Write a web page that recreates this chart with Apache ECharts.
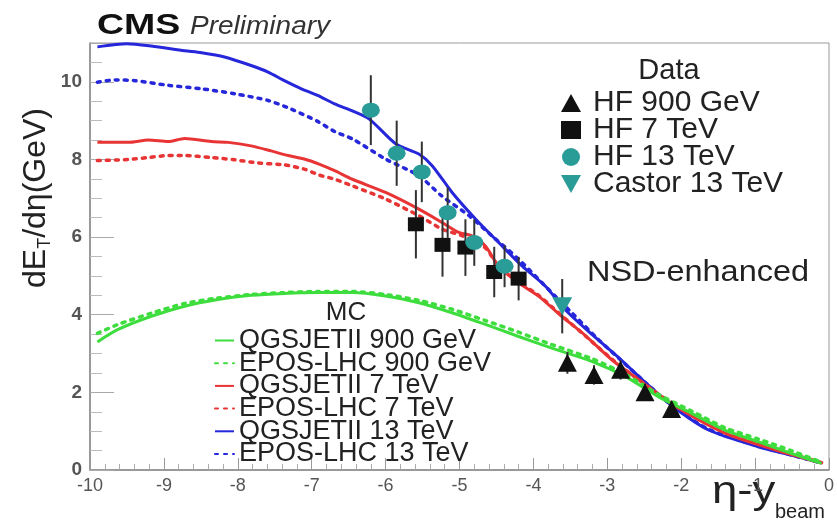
<!DOCTYPE html>
<html>
<head>
<meta charset="utf-8">
<script src="https://cdn.jsdelivr.net/npm/echarts@6/dist/echarts.min.js"></script>
<style>
  html, body { margin: 0; padding: 0; background: #fff; }
  #chart { width: 837px; height: 523px; }
</style>
</head>
<body>
<div id="chart"></div>
<script>
// ---- MC predictions: [eta - y_beam, dE_T/deta] ----
const qgs13 = [[-9.9,10.90],[-9.5,10.98],[-9.17,10.92],[-8.72,10.80],[-8.49,10.75],[-8.18,10.64],[-7.82,10.42],[-7.59,10.25],[-7.37,10.03],[-7.14,9.82],[-6.92,9.65],[-6.69,9.43],[-6.45,9.25],[-6.22,9.04],[-5.86,8.40],[-5.55,8.14],[-5.37,7.84],[-5.10,7.15],[-4.78,6.46],[-4.47,5.86],[-4.15,5.25],[-3.84,4.74],[-3.57,4.13],[-3.20,3.48],[-2.85,2.90],[-2.50,2.28],[-2.13,1.66],[-1.63,1.03],[-0.96,0.60],[-0.50,0.38],[-0.10,0.18]];
const epos13 = [[-9.9,9.99],[-9.66,10.05],[-9.39,10.03],[-8.94,9.91],[-8.49,9.82],[-8.04,9.69],[-7.59,9.52],[-7.28,9.30],[-6.92,8.98],[-6.69,8.72],[-6.45,8.53],[-6.0,8.01],[-5.55,7.58],[-5.24,7.06],[-4.87,6.55],[-4.56,6.03],[-4.20,5.43],[-3.66,4.39],[-3.48,4.05],[-3.12,3.36],[-2.85,2.89],[-2.50,2.28],[-2.13,1.67],[-1.63,1.05],[-0.96,0.62],[-0.50,0.38],[-0.10,0.18]];
const qgs7 = [[-9.9,8.44],[-9.48,8.44],[-9.21,8.50],[-8.94,8.46],[-8.72,8.54],[-8.36,8.46],[-8.13,8.44],[-7.82,8.35],[-7.55,8.22],[-7.32,8.10],[-7.10,8.01],[-6.90,7.88],[-6.69,7.71],[-6.45,7.49],[-6.0,7.15],[-5.55,6.72],[-5.23,6.37],[-5.01,6.12],[-4.83,6.03],[-4.65,5.77],[-4.47,5.25],[-4.20,4.82],[-3.93,4.48],[-3.63,3.98],[-3.30,3.47],[-2.94,2.84],[-2.58,2.33],[-2.08,1.64],[-1.41,0.95],[-0.73,0.52],[-0.10,0.18]];
const epos7 = [[-9.9,7.97],[-9.48,8.0],[-9.21,8.05],[-8.94,8.10],[-8.72,8.10],[-8.36,8.05],[-8.04,7.99],[-7.73,7.91],[-7.37,7.86],[-7.10,7.75],[-6.90,7.60],[-6.69,7.49],[-6.45,7.32],[-6.0,6.98],[-5.55,6.55],[-5.23,6.20],[-4.96,6.03],[-4.65,5.72],[-4.47,5.25],[-4.20,4.84],[-3.93,4.50],[-3.63,4.00],[-3.30,3.46],[-2.94,2.86],[-2.58,2.33],[-2.08,1.66],[-1.41,0.97],[-0.73,0.54],[-0.10,0.19]];
const qgs900 = [[-9.9,3.30],[-9.62,3.62],[-9.17,3.96],[-8.72,4.22],[-8.27,4.39],[-7.82,4.50],[-7.37,4.55],[-6.92,4.57],[-6.45,4.57],[-6.0,4.48],[-5.55,4.31],[-5.10,4.05],[-4.65,3.75],[-4.20,3.44],[-3.75,3.14],[-3.21,2.80],[-2.76,2.41],[-2.31,1.89],[-1.86,1.46],[-1.41,1.03],[-0.96,0.73],[-0.51,0.43],[-0.10,0.17]];
const epos900 = [[-9.9,3.52],[-9.62,3.75],[-9.17,4.04],[-8.72,4.29],[-8.27,4.43],[-7.82,4.52],[-7.37,4.57],[-6.92,4.60],[-6.45,4.60],[-6.0,4.52],[-5.55,4.37],[-5.10,4.14],[-4.65,3.85],[-4.20,3.55],[-3.75,3.23],[-3.21,2.87],[-2.76,2.47],[-2.31,1.95],[-1.86,1.52],[-1.41,1.09],[-0.96,0.80],[-0.51,0.50],[-0.10,0.20]];

// ---- measurements ----
const hf900X = [-3.54, -3.18, -2.82, -2.49, -2.13];
const hf900Y = [2.76, 2.45, 2.58, 2.00, 1.57];
const hf900Err = [0.28, 0.25, 0.25, 0.22, 0.20];

const hf7X = [-5.59, -5.23, -4.92, -4.53, -4.20];
const hf7Y = [6.33, 5.80, 5.73, 5.10, 4.93];
const hf7Err = [0.88, 0.82, 0.73, 0.65, 0.56];

const hf13X = [-6.20, -5.85, -5.51, -5.16, -4.80, -4.39];
const hf13Y = [9.27, 8.16, 7.68, 6.63, 5.86, 5.25];
const hf13Err = [0.90, 0.84, 0.78, 0.65, 0.60, 0.54];

const castor13X = [-3.61];
const castor13Y = [4.22];
const castor13Err = [0.70];

const mcNames = ['QGSJETII 900 GeV', 'EPOS-LHC 900 GeV', 'QGSJETII 7 TeV', 'EPOS-LHC 7 TeV', 'QGSJETII 13 TeV', 'EPOS-LHC 13 TeV'];
const dataNames = ['HF 900 GeV', 'HF 7 TeV', 'HF 13 TeV', 'Castor 13 TeV'];

const FONT = '"Liberation Sans", Arial, Helvetica, sans-serif';
const BLUE = '#2626da', RED = '#e83434', GREEN = '#3ddd3d', TEAL = '#2a9c98', BLACK = '#111';
const DOWN_TRIANGLE = 'path://M0,0L10,0L5,9Z';

const pairs = (xs, ys) => xs.map((x, i) => [x, ys[i]]);

function mcLine(name, data, color, dotted) {
  return {
    type: 'line', name, data, smooth: 0.25,
    symbol: 'circle', showSymbol: false, silent: true,
    lineStyle: dotted
      ? { color, width: 3.5, type: [3, 6], cap: 'round' }
      : { color, width: 3 },
    itemStyle: { color },
    z: 2
  };
}

function errorBars(xs, ys, errs) {
  return {
    type: 'custom', silent: true, z: 3,
    data: xs.map((x, i) => [x, ys[i] - errs[i], ys[i] + errs[i]]),
    encode: { x: 0, y: [1, 2] },
    renderItem: (params, api) => {
      const lo = api.coord([api.value(0), api.value(1)]);
      const hi = api.coord([api.value(0), api.value(2)]);
      return {
        type: 'line',
        shape: { x1: lo[0], y1: lo[1], x2: hi[0], y2: hi[1] },
        style: { stroke: '#333', lineWidth: 2 }
      };
    }
  };
}

function points(name, xs, ys, symbol, size, color, rotate) {
  return {
    type: 'scatter', name, data: pairs(xs, ys),
    symbol, symbolSize: size, symbolRotate: rotate || 0,
    itemStyle: { color, opacity: 1 },
    z: 4
  };
}

const chart = echarts.init(document.getElementById('chart'), null, { renderer: 'canvas' });

chart.setOption({
  animation: false,
  backgroundColor: '#fff',
  textStyle: { fontFamily: FONT },
  grid: {
    left: 90, right: 5, top: 43, bottom: 53,
    show: true, borderColor: '#999', borderWidth: 1, backgroundColor: 'transparent'
  },
  xAxis: {
    type: 'value', min: -10, max: 0, interval: 1,
    axisLine: { onZero: false, lineStyle: { color: '#888', width: 1.5 } },
    axisTick: { inside: true, length: 12, lineStyle: { color: '#999' } },
    minorTick: { show: true, splitNumber: 5, length: 6, lineStyle: { color: '#aaa' } },
    splitLine: { show: false },
    axisLabel: { color: '#555', fontSize: 18, fontFamily: FONT, margin: 7 }
  },
  yAxis: {
    type: 'value', min: 0, max: 11, interval: 2,
    axisLine: { show: true, onZero: false, lineStyle: { color: '#888', width: 1.5 } },
    axisTick: { show: true, inside: true, length: 24, lineStyle: { color: '#aaa' } },
    minorTick: { show: true, splitNumber: 4, length: 12, lineStyle: { color: '#bbb' } },
    splitLine: { show: false },
    axisLabel: { color: '#555', fontSize: 19, fontWeight: 'bold', fontFamily: FONT, margin: 8, showMaxLabel: false }
  },
  legend: [
    {
      data: [
        { name: dataNames[0] },
        { name: dataNames[1] },
        { name: dataNames[2] },
        { name: dataNames[3], icon: DOWN_TRIANGLE }
      ],
      orient: 'vertical', left: 556, top: 83,
      itemWidth: 20, itemHeight: 18, itemGap: -3,
      textStyle: { fontSize: 30, color: '#222', fontFamily: FONT, padding: [0, 0, 0, 7] },
      selectedMode: false
    },
    {
      data: mcNames, orient: 'vertical', left: 209, top: 322,
      itemWidth: 19, itemHeight: 14, itemGap: -4.3,
      // only the line sample is shown for the MC curves
      itemStyle: { opacity: 0 },
      textStyle: { fontSize: 27, color: '#222', fontFamily: FONT },
      selectedMode: false
    }
  ],
  series: [
    mcLine('QGSJETII 13 TeV', qgs13, BLUE, false),
    mcLine('EPOS-LHC 13 TeV', epos13, BLUE, true),
    mcLine('QGSJETII 7 TeV', qgs7, RED, false),
    mcLine('EPOS-LHC 7 TeV', epos7, RED, true),
    mcLine('QGSJETII 900 GeV', qgs900, GREEN, false),
    mcLine('EPOS-LHC 900 GeV', epos900, GREEN, true),
    errorBars(hf900X, hf900Y, hf900Err),
    errorBars(hf7X, hf7Y, hf7Err),
    errorBars(hf13X, hf13Y, hf13Err),
    errorBars(castor13X, castor13Y, castor13Err),
    points('HF 900 GeV', hf900X, hf900Y, 'triangle', [19, 18], BLACK),
    points('HF 7 TeV', hf7X, hf7Y, 'rect', [16, 14], BLACK),
    points('HF 13 TeV', hf13X, hf13Y, 'circle', [18, 15], TEAL),
    points('Castor 13 TeV', castor13X, castor13Y, 'triangle', [20, 18], TEAL, 180)
  ],
  graphic: [
    { type: 'text', x: 97, y: 11, scaleX: 1.25,
      style: { text: 'CMS', font: 'bold 30px ' + FONT, fill: '#111' } },
    { type: 'text', x: 190, y: 15, scaleX: 1.12,
      style: { text: 'Preliminary', font: 'italic 25px ' + FONT, fill: '#333' } },
    { type: 'text', x: 669, y: 71,
      style: { text: 'Data', font: '29px ' + FONT, fill: '#222', align: 'center', verticalAlign: 'middle' } },
    { type: 'text', x: 346, y: 313,
      style: { text: 'MC', font: '26px ' + FONT, fill: '#222', align: 'center', verticalAlign: 'middle' } },
    { type: 'text', x: 587, y: 273, scaleX: 1.12,
      style: { text: 'NSD-enhanced', font: '29px ' + FONT, fill: '#222', verticalAlign: 'middle' } },
    { type: 'text', x: 36, y: 198, rotation: Math.PI / 2,
      style: {
        text: '{m|dE}{s|T}{m|/dη(GeV)}',
        align: 'center', verticalAlign: 'middle', fill: '#222',
        rich: {
          m: { fontSize: 32, fontFamily: FONT, lineHeight: 36, verticalAlign: 'middle', fill: '#222' },
          s: { fontSize: 18, fontFamily: FONT, lineHeight: 36, verticalAlign: 'bottom', fill: '#222', padding: [14, 0, 0, 0] }
        }
      } },
    { type: 'text', x: 712, y: 474, scaleX: 1.2,
      style: { text: 'η-y', font: '38px ' + FONT, fill: '#222' } },
    { type: 'text', x: 775, y: 502,
      style: { text: 'beam', font: '20px ' + FONT, fill: '#222' } }
  ]
});
</script>
</body>
</html>
